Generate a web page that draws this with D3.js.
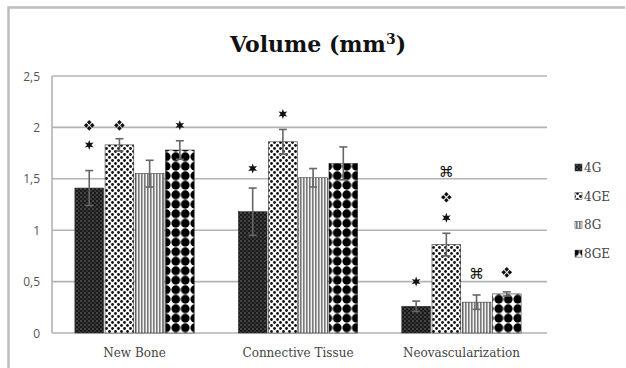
<!DOCTYPE html>
<html><head><meta charset="utf-8">
<script src="https://cdn.jsdelivr.net/npm/d3@7"></script>
<style>body{margin:0;background:#fff}svg{display:block}</style>
</head><body>
<svg id="c" width="626" height="368"></svg>
<script>
const categories = ["New Bone", "Connective Tissue", "Neovascularization"];
const seriesNames = ["4G", "4GE", "8G", "8GE"];
const means = {
  "4G":  [1.41, 1.18, 0.26],
  "4GE": [1.83, 1.86, 0.86],
  "8G":  [1.55, 1.51, 0.30],
  "8GE": [1.78, 1.65, 0.38]
};
const errors = {
  "4G":  [0.17, 0.23, 0.05],
  "4GE": [0.06, 0.12, 0.11],
  "8G":  [0.13, 0.09, 0.07],
  "8GE": [0.09, 0.16, 0.02]
};
const yTicks = [0, 0.5, 1, 1.5, 2, 2.5];
const yTickLabels = ["0", "0,5", "1", "1,5", "2", "2,5"];
// significance marks: category, series, symbol, value level of symbol centre
const marks = [
  ["New Bone", "4G", "\u2756", 2.02], ["New Bone", "4G", "\u2736", 1.83],
  ["New Bone", "4GE", "\u2756", 2.02],
  ["New Bone", "8GE", "\u2736", 2.02],
  ["Connective Tissue", "4G", "\u2736", 1.60],
  ["Connective Tissue", "4GE", "\u2736", 2.13],
  ["Neovascularization", "4G", "\u2736", 0.50],
  ["Neovascularization", "4GE", "\u2318", 1.57], ["Neovascularization", "4GE", "\u2756", 1.32], ["Neovascularization", "4GE", "\u2736", 1.12],
  ["Neovascularization", "8G", "\u2318", 0.57],
  ["Neovascularization", "8GE", "\u2756", 0.59]
];

const svg = d3.select("#c");
const defs = svg.append("defs");
// patterns
let p = defs.append("pattern").attr("id","p4G").attr("patternUnits","userSpaceOnUse").attr("width",4).attr("height",4);
p.append("rect").attr("width",4).attr("height",4).attr("fill","#1a1a1a");
p.append("circle").attr("cx",1).attr("cy",1).attr("r",0.8).attr("fill","#777");
p.append("circle").attr("cx",3).attr("cy",3).attr("r",0.8).attr("fill","#555");
p = defs.append("pattern").attr("id","p4GE").attr("patternUnits","userSpaceOnUse").attr("width",6).attr("height",6);
p.append("rect").attr("width",6).attr("height",6).attr("fill","#fff");
p.append("circle").attr("cx",1.5).attr("cy",1.5).attr("r",1.4).attr("fill","#111");
p.append("circle").attr("cx",4.5).attr("cy",4.5).attr("r",1.4).attr("fill","#111");
p = defs.append("pattern").attr("id","p8G").attr("patternUnits","userSpaceOnUse").attr("width",3).attr("height",3);
p.append("rect").attr("width",3).attr("height",3).attr("fill","#f2f2f2");
p.append("rect").attr("width",1.6).attr("height",3).attr("fill","#7a7a7a");
p = defs.append("pattern").attr("id","p8GE").attr("patternUnits","userSpaceOnUse").attr("width",9.5).attr("height",9.5);
p.append("rect").attr("width",9.5).attr("height",9.5).attr("fill","#fff");
p.append("circle").attr("cx",4.75).attr("cy",4.75).attr("r",4.4).attr("fill","#000");
const fills = {"4G":"url(#p4G)","4GE":"url(#p4GE)","8G":"url(#p8G)","8GE":"url(#p8GE)"};

// frame
svg.append("path").attr("d","M8.5,368 V7.5 H625").attr("fill","none").attr("stroke","#bdbdbd").attr("stroke-width",2.5);

const x0 = d3.scaleBand().domain(categories).range([52, 544]).paddingInner(0.27).paddingOuter(0.14);
const x1 = d3.scaleBand().domain(seriesNames).range([0, x0.bandwidth()]).paddingInner(0.05);
const y = d3.scaleLinear().domain([0, 2.5]).range([333, 76]);

// gridlines
svg.append("g").selectAll("line").data(yTicks).join("line")
  .attr("x1",52).attr("x2",547).attr("y1",d=>y(d)).attr("y2",d=>y(d))
  .attr("stroke","#b3b3b3").attr("stroke-width",1.6);
svg.append("line").attr("x1",52).attr("x2",52).attr("y1",y(2.5)).attr("y2",y(0)).attr("stroke","#b3b3b3").attr("stroke-width",1.6);

// y labels
svg.append("g").selectAll("text").data(yTicks).join("text")
  .attr("x",40).attr("y",d=>y(d)+4.5).attr("text-anchor","end")
  .attr("font-family","'Open Sans', sans-serif").attr("font-size",12).attr("fill","#555")
  .text((d,i)=>yTickLabels[i]);

// bars
const g = svg.append("g");
categories.forEach((c, ci) => {
  seriesNames.forEach(s => {
    const v = means[s][ci], e = errors[s][ci];
    const bx = x0(c) + x1(s), bw = x1.bandwidth();
    g.append("rect").attr("x",bx).attr("y",y(v)).attr("width",bw).attr("height",y(0)-y(v))
      .attr("fill",fills[s]).attr("stroke","#333").attr("stroke-width",0.6);
    const cx = bx + bw/2;
    g.append("line").attr("x1",cx).attr("x2",cx).attr("y1",y(v+e)).attr("y2",y(v-e)).attr("stroke","#666").attr("stroke-width",1.6);
    [v+e, v-e].forEach(t => g.append("line").attr("x1",cx-4).attr("x2",cx+4).attr("y1",y(t)).attr("y2",y(t)).attr("stroke","#666").attr("stroke-width",1.6));
  });
});

// significance symbol shapes
const star6 = {draw(ctx, size){
  const R = Math.sqrt(size), r = R*0.45;
  for (let k=0;k<12;k++){
    const a = -Math.PI/2 + k*Math.PI/6, rr = k%2? r : R;
    const px = rr*Math.cos(a), py = rr*Math.sin(a);
    k? ctx.lineTo(px,py) : ctx.moveTo(px,py);
  }
  ctx.closePath();
}};
const quadDiamond = {draw(ctx, size){
  const s = Math.sqrt(size), o = s*0.55, h = s*0.42;
  [[0,-o],[o,0],[0,o],[-o,0]].forEach(([dx,dy])=>{
    ctx.moveTo(dx, dy-h); ctx.lineTo(dx+h, dy); ctx.lineTo(dx, dy+h); ctx.lineTo(dx-h, dy); ctx.closePath();
  });
}};
const mg = svg.append("g");
marks.forEach(d => {
  const mx = x0(d[0])+x1(d[1])+x1.bandwidth()/2, my = y(d[3]);
  if (d[2] === "\u2318") {
    mg.append("text").attr("x",mx).attr("y",my+5).attr("text-anchor","middle")
      .attr("font-family","'DejaVu Sans', sans-serif").attr("font-size",15).attr("fill","#111").text(d[2]);
  } else {
    const type = d[2] === "\u2736" ? star6 : quadDiamond;
    const size = d[2] === "\u2736" ? 25 : 30;
    mg.append("path").attr("transform",`translate(${mx},${my})`)
      .attr("d", d3.symbol().type(type).size(size)()).attr("fill","#111");
  }
});

// category labels
svg.append("g").selectAll("text").data(categories).join("text")
  .attr("x",d=>x0(d)+x0.bandwidth()/2).attr("y",357).attr("text-anchor","middle")
  .attr("font-family","'DejaVu Serif', serif").attr("font-size",12).attr("fill","#444")
  .text(d=>d);

// title
const t = svg.append("text").attr("x",318).attr("y",52).attr("text-anchor","middle")
  .attr("font-family","'DejaVu Serif', serif").attr("font-weight","bold").attr("font-size",22).attr("fill","#111");
t.append("tspan").text("Volume (mm");
t.append("tspan").attr("font-size",14).attr("dy",-8).text("3");
t.append("tspan").attr("dy",8).text(")");

// legend
const lg = svg.append("g");
seriesNames.forEach((s,i) => {
  const ly = 172 + i*28.7;
  lg.append("rect").attr("x",575).attr("y",ly-8).attr("width",7).attr("height",7).attr("fill",fills[s]).attr("stroke","#333").attr("stroke-width",0.5);
  lg.append("text").attr("x",584).attr("y",ly).attr("font-family","'DejaVu Serif', serif").attr("font-size",12).attr("fill","#444").text(s);
});
</script>
</body></html>
